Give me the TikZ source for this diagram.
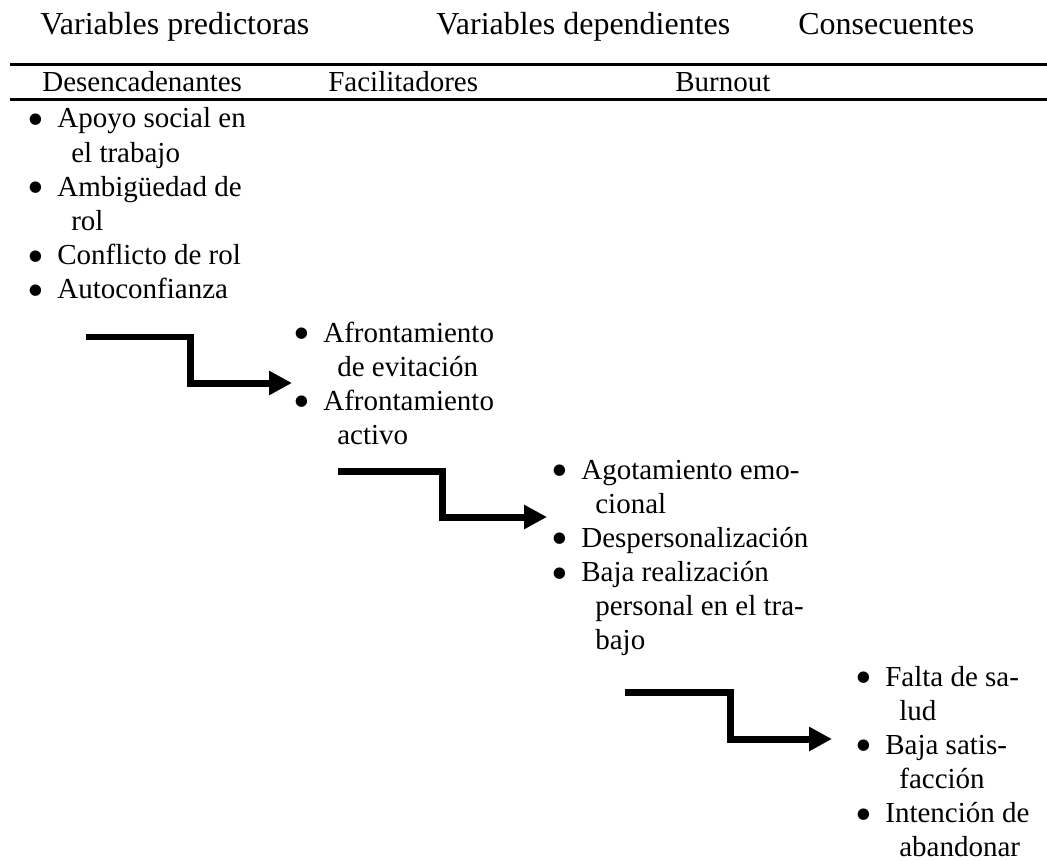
\documentclass[tikz,border=0pt]{standalone}
\usepackage{fontspec}
\setmainfont{Liberation Serif}
\usepackage{tikz}
\usetikzlibrary{arrows.meta}
\newcommand{\bitem}{\makebox[0.6cm][l]{\smash{\raisebox{-0.26em}{\scalebox{1.65}{\textbullet}}}}}
\newcommand{\cont}{\hspace*{0.88cm}}

\begin{document}
\begin{tikzpicture}[x=0.02cm, y=-0.02cm,
    hdr/.style={anchor=base west, inner sep=0pt, font=\fontsize{18.2pt}{21pt}\selectfont},
    subhdr/.style={anchor=base west, inner sep=0pt, font=\fontsize{16.5pt}{19.46pt}\selectfont},
    blist/.style={anchor=base west, inner sep=0pt, font=\fontsize{16.5pt}{19.46pt}\selectfont},
    rule/.style={line width=0.06cm},
    flowarrow/.style={line width=0.14cm, -{Triangle[length=0.46cm, width=0.46cm]}}]
  \useasboundingbox (0,0) rectangle (1047,861);

  % column titles
  \node[hdr] (predict) at (40,35) {Variables predictoras};
  \node[hdr] (depend) at (436,35) {Variables dependientes};
  \node[hdr] (conse) at (798,35) {Consecuentes};
  \draw[rule] (10,65) -- (1047,65);
  \node[subhdr] (desenc) at (42,92) {Desencadenantes};
  \node[subhdr] (facil) at (328,92) {Facilitadores};
  \node[subhdr] (burn) at (675,92) {Burnout};
  \draw[rule] (10,100) -- (1047,100);

  % lists
  \node[blist] (listDes) at (27,128) {\begin{tabular}[t]{@{}l@{}}
    \bitem Apoyo social en\\ \cont el trabajo\\
    \bitem Ambigüedad de\\ \cont rol\\
    \bitem Conflicto de rol\\
    \bitem Autoconfianza
  \end{tabular}};
  \node[blist] (listFac) at (293,342) {\begin{tabular}[t]{@{}l@{}}
    \bitem Afrontamiento\\ \cont de evitación\\
    \bitem Afrontamiento\\ \cont activo
  \end{tabular}};
  \node[blist] (listBur) at (551,479) {\begin{tabular}[t]{@{}l@{}}
    \bitem Agotamiento emo-\\ \cont cional\\
    \bitem Despersonalización\\
    \bitem Baja realización\\ \cont personal en el tra-\\ \cont bajo
  \end{tabular}};
  \node[blist] (listCon) at (855,686) {\begin{tabular}[t]{@{}l@{}}
    \bitem Falta de sa-\\ \cont lud\\
    \bitem Baja satis-\\ \cont facción\\
    \bitem Intención de\\ \cont abandonar
  \end{tabular}};

  % step arrows
  \coordinate (arrA) at (86,337);
  \coordinate (tipA) at (292,383);
  \coordinate (arrB) at (338,471);
  \coordinate (tipB) at (547,517);
  \coordinate (arrC) at (625,692);
  \coordinate (tipC) at (832,739);
  \draw[flowarrow] (arrA) -- ++(104,0) |- (tipA);
  \draw[flowarrow] (arrB) -- ++(104,0) |- (tipB);
  \draw[flowarrow] (arrC) -- ++(105,0) |- (tipC);
\end{tikzpicture}
\end{document}
